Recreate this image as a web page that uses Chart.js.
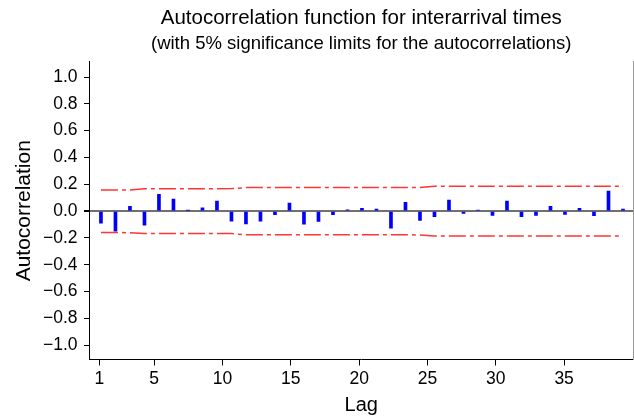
<!DOCTYPE html>
<html>
<head>
<meta charset="utf-8">
<script src="https://cdn.jsdelivr.net/npm/chart.js@4"></script>
<style>
  html, body { margin: 0; padding: 0; background: #fff; }
  canvas { display: block; }
</style>
</head>
<body>
<canvas id="c" width="634" height="419"></canvas>
<script>
// ---- data ----
const lags = [1, 2, 3, 4, 5, 6, 7, 8, 9, 10, 11, 12, 13, 14, 15, 16, 17, 18, 19, 20,
              21, 22, 23, 24, 25, 26, 27, 28, 29, 30, 31, 32, 33, 34, 35, 36, 37];
const acf = [-0.09, -0.15, 0.035, -0.105, 0.125, 0.09, 0.005, 0.025, 0.075, -0.075,
             -0.095, -0.075, -0.027, 0.06, -0.097, -0.077, -0.027, 0.01, 0.02, 0.015,
             -0.127, 0.065, -0.07, -0.042, 0.082, -0.018, 0.006, -0.032, 0.075, -0.042,
             -0.032, 0.035, -0.025, 0.02, -0.035, 0.15, 0.015];
const upperLimit = [0.157, 0.157, 0.158, 0.166, 0.167, 0.167, 0.167, 0.167, 0.167, 0.168,
                    0.175, 0.175, 0.175, 0.175, 0.175, 0.175, 0.175, 0.175, 0.175, 0.175,
                    0.175, 0.175, 0.176, 0.186, 0.186, 0.186, 0.186, 0.186, 0.186, 0.186,
                    0.186, 0.186, 0.186, 0.186, 0.186, 0.186, 0.186];
const lowerLimit = [-0.160, -0.160, -0.161, -0.167, -0.167, -0.167, -0.167, -0.167, -0.167, -0.168,
                    -0.177, -0.177, -0.177, -0.177, -0.177, -0.177, -0.177, -0.177, -0.177, -0.177,
                    -0.177, -0.177, -0.178, -0.186, -0.186, -0.186, -0.186, -0.186, -0.186, -0.186,
                    -0.186, -0.186, -0.186, -0.186, -0.186, -0.186, -0.186];
const xTicks = [1, 5, 10, 15, 20, 25, 30, 35];
const yTicks = [-1.0, -0.8, -0.6, -0.4, -0.2, 0.0, 0.2, 0.4, 0.6, 0.8, 1.0];

const titleText = 'Autocorrelation function for interarrival times';
const subtitleText = '(with 5% significance limits for the autocorrelations)';
const xTitle = 'Lag';
const yTitle = 'Autocorrelation';

// ---- chart ----
const FONT = "'Liberation Sans', Arial, Helvetica, sans-serif";
Chart.defaults.font.family = FONT;
Chart.defaults.color = '#000';

const pts = arr => lags.map((l, i) => ({ x: l, y: arr[i] }));
const limitStyle = {
  type: 'line', borderColor: '#ff3434', borderWidth: 1.5, borderDash: [17, 4, 4, 4],
  pointRadius: 0, fill: false, tension: 0, xAxisID: 'x', yAxisID: 'y', order: 1
};

new Chart(document.getElementById('c'), {
  type: 'bar',
  data: {
    datasets: [
      { type: 'bar', label: 'ACF', data: pts(acf), backgroundColor: '#0000ff',
        barThickness: 3, xAxisID: 'x', yAxisID: 'y', order: 2 },
      Object.assign({ label: 'Upper limit', data: pts(upperLimit) }, limitStyle),
      Object.assign({ label: 'Lower limit', data: pts(lowerLimit) }, limitStyle)
    ]
  },
  options: {
    responsive: false, animation: false, devicePixelRatio: 1,
    layout: { padding: { left: 0, right: 1, top: 0, bottom: 0 } },
    plugins: {
      legend: { display: false },
      tooltip: { enabled: false },
      title: { display: true, text: titleText, fullSize: false, color: '#000',
               font: { size: 20.5, weight: 'normal', family: FONT, lineHeight: 1.2 },
               padding: { top: 5.7, bottom: 2.3 } },
      subtitle: { display: true, text: subtitleText, fullSize: false, color: '#000',
                  font: { size: 18.5, weight: 'normal', family: FONT, lineHeight: 1.2 },
                  padding: { top: 0, bottom: 7.2 } }
    },
    scales: {
      x: { type: 'linear', display: false, min: 0.21, max: 37.69, offset: false,
           grid: { offset: false } },
      xt: {
        type: 'linear', position: 'bottom', min: 0.27, max: 40.04, offset: false,
        afterBuildTicks: ax => { ax.ticks = xTicks.map(v => ({ value: v })); },
        ticks: { autoSkip: false, maxRotation: 0, padding: 3.5, color: '#000',
                 font: { size: 17.5, family: FONT } },
        grid: { offset: false, drawOnChartArea: false, tickLength: 6, color: '#000', tickColor: '#000' },
        border: { display: true, color: '#000', width: 1 },
        title: { display: true, text: xTitle, color: '#000',
                 font: { size: 20, family: FONT, lineHeight: 1.2 },
                 padding: { top: 0, bottom: 1.5 } },
        afterFit: s => { s.height = 59.5; }
      },
      y: {
        type: 'linear', position: 'left', min: -1.107, max: 1.112,
        afterBuildTicks: ax => { ax.ticks = yTicks.map(v => ({ value: v })); },
        ticks: { padding: 6.5, color: '#000', font: { size: 17.5, family: FONT },
                 callback: v => (v < -1e-9 ? '\u2212' : '') + Math.abs(v).toFixed(1) },
        grid: {
          drawOnChartArea: true, tickLength: 5.5, tickColor: '#000',
          color: c => (c.tick && Math.abs(c.tick.value) < 1e-9) ? '#707070' : 'rgba(0,0,0,0)',
          lineWidth: c => (c.tick && Math.abs(c.tick.value) < 1e-9) ? 2 : 1
        },
        border: { display: true, color: '#000', width: 1 },
        title: { display: true, text: yTitle, color: '#000',
                 font: { size: 21, family: FONT, lineHeight: 1.2 },
                 padding: { top: 12, bottom: 0 } },
        afterFit: s => { s.width = 89.5; }
      },
      yr: {
        type: 'linear', position: 'right', display: true,
        ticks: { display: false },
        grid: { drawOnChartArea: false, drawTicks: false },
        border: { display: true, color: '#9a9a9a', width: 1 },
        afterFit: s => { s.width = 0; }
      }
    }
  }
});
</script>
</body>
</html>
